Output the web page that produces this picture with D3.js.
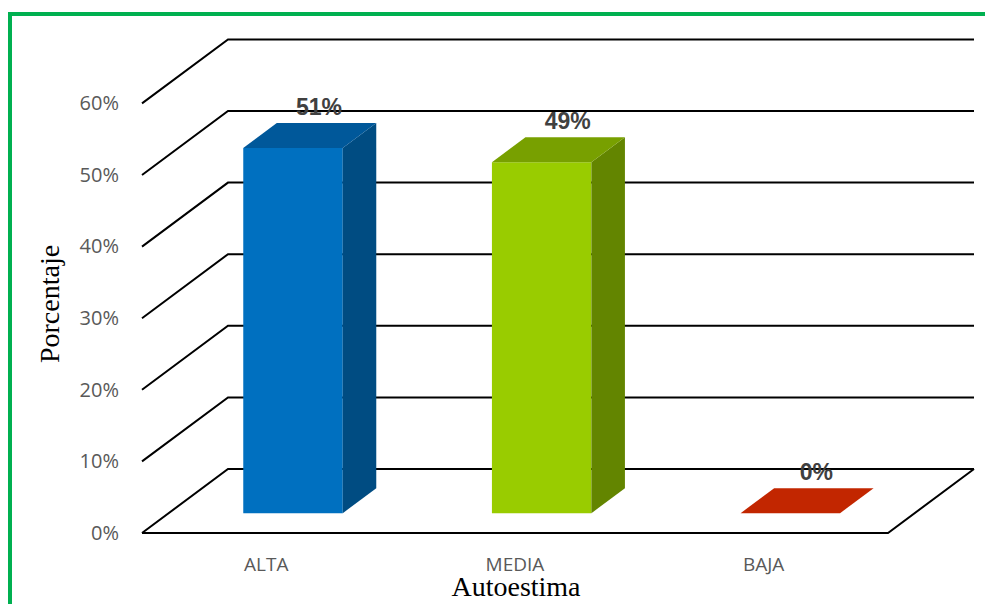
<!DOCTYPE html>
<html>
<head>
<meta charset="utf-8">
<script src="https://cdn.jsdelivr.net/npm/d3@7"></script>
<style>
  html, body { margin: 0; padding: 0; background: #fff; }
  svg { display: block; }
</style>
</head>
<body>
<svg id="chart" width="985" height="604"></svg>
<script>
// data
const categories = ['ALTA', 'MEDIA', 'BAJA'];
const values = [0.51, 0.49, 0];
const tickValues = [0, 0.1, 0.2, 0.3, 0.4, 0.5, 0.6];
const faceColors = [
  { front: '#0070C0', top: '#00589A', side: '#004C82' },
  { front: '#99CC00', top: '#78A000', side: '#638500' },
  { front: '#C22600', top: '#C22600', side: '#9A1E00' }
];

const svg = d3.select('#chart');

// floor / wall geometry
const floorLeft = 142;
const floorRight = 888;
const depthX = 86;
const depthY = -64;
const barFront = 0.31; // depth fraction for bar front face
const barBack = 0.70;

const x = d3.scaleBand()
  .domain(categories)
  .range([floorLeft, floorRight])
  .paddingInner(0.6)
  .paddingOuter(0.3);

const y = d3.scaleLinear()
  .domain([0, 0.6])
  .range([533, 103.4]);

// projected point: front-plane x/y shifted by depth fraction d
const proj = (px, py, d) => [px + depthX * d, py + depthY * d];

// green frame
svg.append('rect')
  .attr('x', 10)
  .attr('y', 14)
  .attr('width', 1000)
  .attr('height', 700)
  .attr('fill', 'none')
  .attr('stroke', '#00B050')
  .attr('stroke-width', 4);

// gridlines: left wall diagonal + back wall horizontal
const grid = svg.append('g')
  .attr('fill', 'none')
  .attr('stroke', '#000')
  .attr('stroke-width', 2);

tickValues.forEach(t => {
  const a = proj(floorLeft, y(t), 0);
  const b = proj(floorLeft, y(t), 1);
  const c = proj(floorRight, y(t), 1);
  grid.append('path')
    .attr('d', d3.line()([a, b, c]));
});

// floor front + right edge
const f0 = proj(floorLeft, y(0), 0);
const f1 = proj(floorRight, y(0), 0);
const f2 = proj(floorRight, y(0), 1);
grid.append('path').attr('d', d3.line()([f0, f1, f2]));

// tick labels
svg.append('g')
  .selectAll('text')
  .data(tickValues)
  .join('text')
  .attr('x', 119)
  .attr('y', d => y(d) + 1.5)
  .attr('text-anchor', 'end')
  .attr('dominant-baseline', 'middle')
  .attr('font-family', '"Open Sans", sans-serif')
  .attr('font-size', 20)
  .attr('fill', '#595959')
  .text(d3.format('.0%'));

// bars
const bars = svg.append('g');
categories.forEach((cat, i) => {
  const x0 = x(cat);
  const x1 = x0 + x.bandwidth();
  const yt = y(values[i]);
  const yb = y(0);
  const col = faceColors[i];
  const ftl = proj(x0, yt, barFront), ftr = proj(x1, yt, barFront);
  const fbl = proj(x0, yb, barFront), fbr = proj(x1, yb, barFront);
  const btl = proj(x0, yt, barBack), btr = proj(x1, yt, barBack);
  const bbr = proj(x1, yb, barBack);
  const g = bars.append('g');
  if (values[i] > 0) {
    g.append('path').attr('d', d3.line()([ftl, ftr, fbr, fbl]) + 'Z').attr('fill', col.front);
    g.append('path').attr('d', d3.line()([ftr, btr, bbr, fbr]) + 'Z').attr('fill', col.side);
  }
  g.append('path').attr('d', d3.line()([ftl, ftr, btr, btl]) + 'Z').attr('fill', col.top);
});

// value labels
svg.append('g')
  .selectAll('text')
  .data(categories)
  .join('text')
  .attr('x', (d, i) => proj(x(d) + x.bandwidth() / 2, 0, barFront)[0] + 26)
  .attr('y', (d, i) => proj(0, y(values[i]), barFront)[1] - 33)
  .attr('text-anchor', 'middle')
  .attr('font-family', '"Liberation Sans", Arial, sans-serif')
  .attr('font-weight', 'bold')
  .attr('font-size', 23)
  .attr('fill', '#404040')
  .text((d, i) => d3.format('.0%')(values[i]));

// category labels
svg.append('g')
  .selectAll('text')
  .data(categories)
  .join('text')
  .attr('x', d => x(d) + x.bandwidth() / 2)
  .attr('y', 571)
  .attr('text-anchor', 'middle')
  .attr('font-family', '"Open Sans", sans-serif')
  .attr('font-size', 19)
  .attr('fill', '#595959')
  .text(d => d);

// axis titles
svg.append('text')
  .attr('x', 516)
  .attr('y', 596)
  .attr('text-anchor', 'middle')
  .attr('font-family', '"Liberation Serif", "Times New Roman", serif')
  .attr('font-size', 28)
  .attr('fill', '#000')
  .text('Autoestima');

svg.append('text')
  .attr('transform', 'translate(59,304) rotate(-90)')
  .attr('text-anchor', 'middle')
  .attr('font-family', '"Liberation Serif", "Times New Roman", serif')
  .attr('font-size', 28)
  .attr('fill', '#000')
  .text('Porcentaje');
</script>
</body>
</html>
